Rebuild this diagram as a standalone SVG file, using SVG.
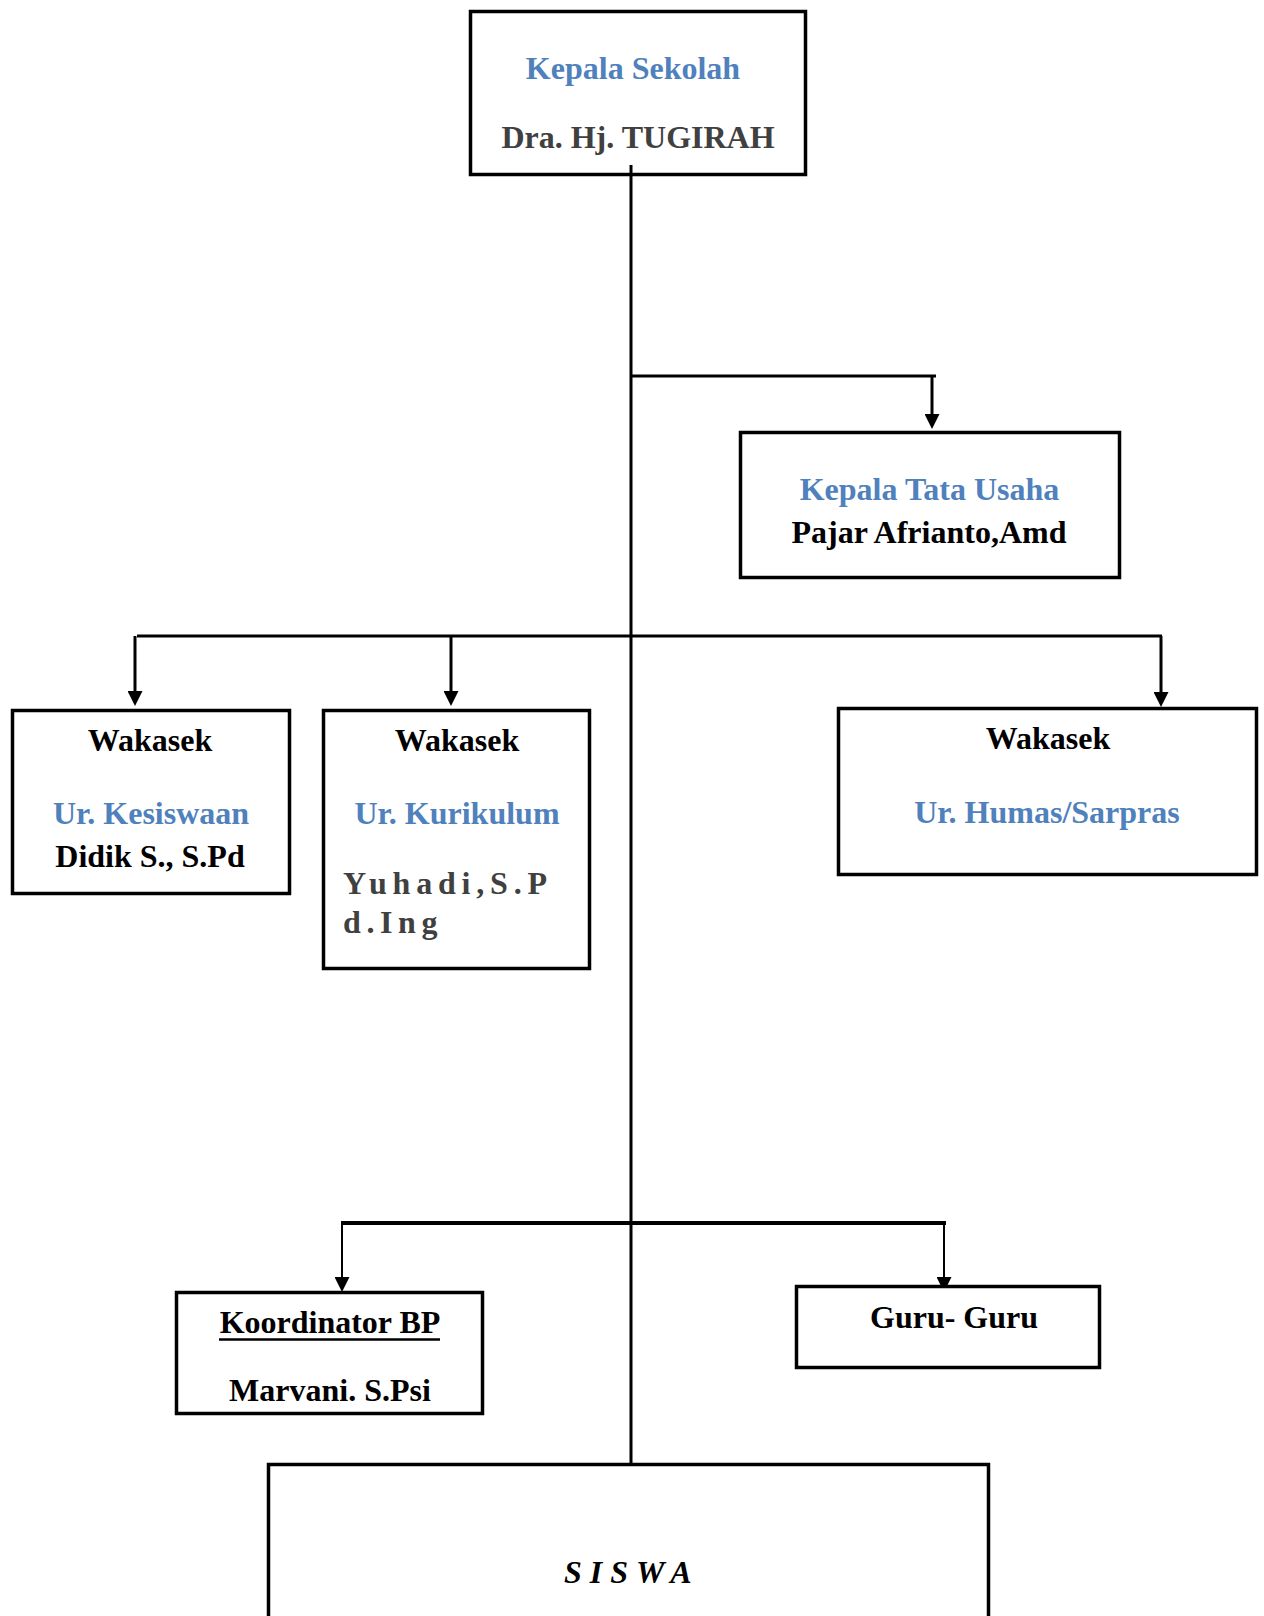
<svg xmlns="http://www.w3.org/2000/svg" width="1264" height="1616" viewBox="0 0 1264 1616">
<style>
.box{fill:#fff;stroke:#000;stroke-width:3.5}
.ln{fill:none;stroke:#000;stroke-width:3}
.thin{fill:none;stroke:#000;stroke-width:2}
text{font-family:"Liberation Serif","Times New Roman",serif;font-weight:bold;font-size:32px}
.c{text-anchor:middle}
.blue{fill:#4F81BD}
.gray{fill:#404040}
.blk{fill:#000}
</style>
<defs>
<marker id="arr" viewBox="0 0 15 15" refX="7" refY="7.5" markerWidth="15" markerHeight="15" markerUnits="userSpaceOnUse" orient="auto">
<path d="M0,0 L15,7.5 L0,15 z" fill="#000"/>
</marker>
</defs>
<g id="connectors">
<path class="ln" d="M631 165 V1464"/>
<path class="ln" d="M631 376 H936"/>
<path class="ln" d="M932 376 V421" marker-end="url(#arr)"/>
<path class="ln" d="M137 636 H1162"/>
<path class="ln" d="M135 636 V698" marker-end="url(#arr)"/>
<path class="ln" d="M451 636 V698" marker-end="url(#arr)"/>
<path class="ln" d="M1161 636 V699" marker-end="url(#arr)"/>
<path fill="none" stroke="#000" stroke-width="4" d="M341 1223 H946"/>
<path class="thin" d="M342 1223 V1284" marker-end="url(#arr)"/>
<path class="thin" d="M944 1223 V1284" marker-end="url(#arr)"/>
</g>
<g id="kepala-sekolah">
<rect class="box" x="470.5" y="11.5" width="335" height="163"/>
<text class="c blue" x="633" y="79">Kepala Sekolah</text>
<text class="c gray" x="638" y="148">Dra. Hj. TUGIRAH</text>
</g>
<path class="ln" d="M631 165 V175"/>
<g id="kepala-tata-usaha">
<rect class="box" x="740.5" y="432.5" width="379" height="145"/>
<text class="c blue" x="929.5" y="500">Kepala Tata Usaha</text>
<text class="c blk" x="929" y="543">Pajar Afrianto,Amd</text>
</g>
<g id="wakasek-kesiswaan">
<rect class="box" x="12.5" y="710.5" width="277" height="183"/>
<text class="c blk" x="150" y="751">Wakasek</text>
<text class="c blue" x="151" y="824">Ur. Kesiswaan</text>
<text class="c blk" x="150" y="867">Didik S., S.Pd</text>
</g>
<g id="wakasek-kurikulum">
<rect class="box" x="323.5" y="710.5" width="266" height="258"/>
<text class="c blk" x="457" y="751">Wakasek</text>
<text class="c blue" x="457" y="824">Ur. Kurikulum</text>
<text class="gray" x="343" y="894" letter-spacing="5.8">Yuhadi,S.P</text>
<text class="gray" x="343" y="933" letter-spacing="5.6">d.Ing</text>
</g>
<g id="wakasek-humas">
<rect class="box" x="838.5" y="708.5" width="418" height="166"/>
<text class="c blk" x="1048" y="749">Wakasek</text>
<text class="c blue" x="1047" y="823">Ur. Humas/Sarpras</text>
</g>
<g id="koordinator-bp">
<rect class="box" x="176.5" y="1292.5" width="306" height="121"/>
<text class="c blk" x="330" y="1333">Koordinator BP</text>
<path fill="none" stroke="#000" stroke-width="2.5" d="M219 1339.5 H440"/>
<text class="c blk" x="330" y="1401">Marvani. S.Psi</text>
</g>
<g id="guru-guru">
<rect class="box" x="796.5" y="1286.5" width="303" height="81"/>
<text class="c blk" x="954" y="1328">Guru- Guru</text>
</g>
<g id="siswa">
<rect class="box" x="268.5" y="1464.5" width="720" height="200"/>
<text class="blk" x="564" y="1583" font-style="italic" letter-spacing="8">SISWA</text>
</g>
</svg>
